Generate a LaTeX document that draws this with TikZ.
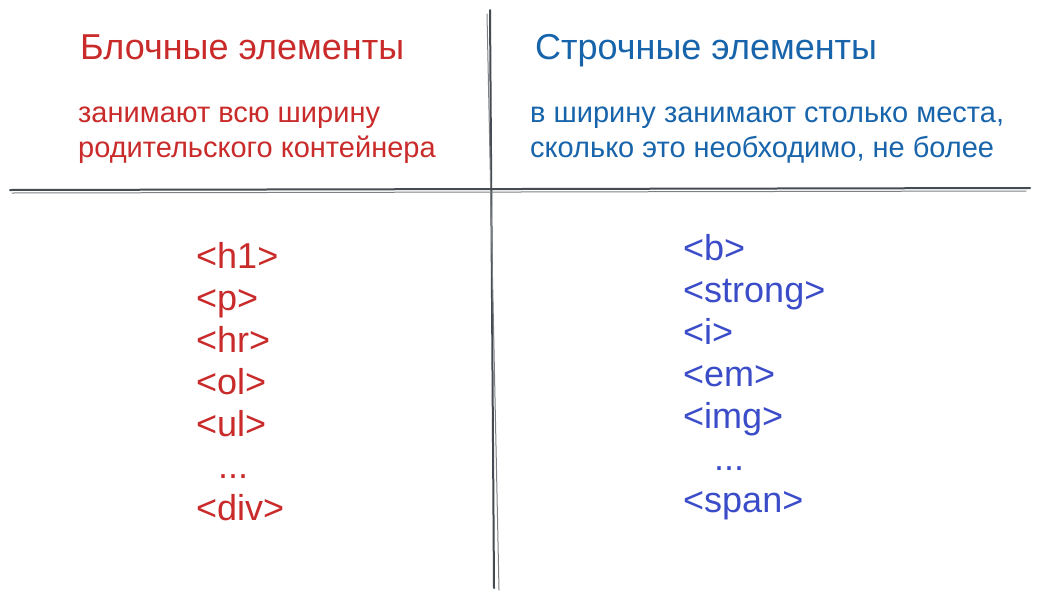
\documentclass[tikz,border=0pt]{standalone}
\usepackage{fontspec}
\setmainfont{Liberation Sans}
\usepackage{xcolor}
\usetikzlibrary{positioning}

\definecolor{blockred}{HTML}{C92A2A}
\definecolor{inlineblue}{HTML}{1864AB}
\definecolor{tagblue}{HTML}{3B4CC9}
\definecolor{rulegray}{HTML}{454B52}

\begin{document}
\begin{tikzpicture}[
  x=1pt,y=-1pt,
  every node/.style={inner sep=0pt,anchor=base west},
  heading/.style={font=\fontsize{36}{40}\selectfont},
  subline/.style={font=\fontsize{29}{35}\selectfont,align=left},
  tagline/.style={font=\fontsize{36}{42}\selectfont},
  rule/.style={draw=rulegray,line width=2pt,line cap=round},
  ruleghost/.style={draw=rulegray!70,line width=1pt,line cap=round}
]
\useasboundingbox (0,0) rectangle (1039,600);
% dividing lines
\draw[rule] (490,10) -- (494,588);
\draw[ruleghost] (487,14) -- (499,590);
\draw[rule] (10,190) -- (1030,188);
\draw[ruleghost] (12,193) -- (1026,191);
% left column
\node[heading,text=blockred] (blocktitle) at (80,59) {Блочные элементы};
\node[subline,text=blockred] (blocknote) at (78,157) {занимают всю ширину\\родительского контейнера};
\foreach \t/\r in {<h1>/0,<p>/1,<hr>/2,<ol>/3,<ul>/4,<div>/6}
  \node[tagline,text=blockred] (blocktag\r) at (196,268+42*\r) {\t};
\node[tagline,text=blockred] (blockdots) at (218,268+42*5) {...};
% right column
\node[heading,text=inlineblue] (inlinetitle) at (535,59) {Строчные элементы};
\node[subline,text=inlineblue] (inlinenote) at (530,157) {в ширину занимают столько места,\\сколько это необходимо, не более};
\foreach \t/\r in {<b>/0,<strong>/1,<i>/2,<em>/3,<img>/4,<span>/6}
  \node[tagline,text=tagblue] (inlinetag\r) at (683,260+42*\r) {\t};
\node[tagline,text=tagblue] (inlinedots) at (714,260+42*5) {...};
\end{tikzpicture}
\end{document}
